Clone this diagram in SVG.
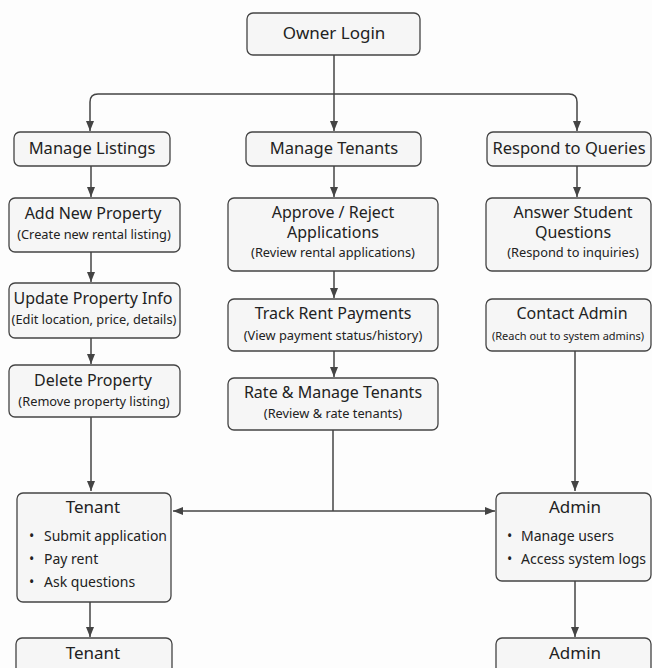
<svg xmlns="http://www.w3.org/2000/svg" width="652" height="668" viewBox="0 0 652 668">
<style>
.box{fill:#f6f6f6;stroke:#444;stroke-width:1.3}
.t{font-family:"Noto Sans","Open Sans",sans-serif;font-size:16px;fill:#222;text-anchor:middle}
.h{font-size:16.5px}
.n{font-size:17px}
.s{font-family:"Noto Sans","Open Sans",sans-serif;font-size:12.8px;fill:#222;text-anchor:middle}
.b{font-family:"Noto Sans","Open Sans",sans-serif;font-size:14px;fill:#222}
.c{fill:none;stroke:#444;stroke-width:1.5}
</style>
<defs>
<marker id="ah" markerUnits="userSpaceOnUse" markerWidth="10" markerHeight="10" viewBox="0 0 10 10" refX="10" refY="5" orient="auto-start-reverse">
<path d="M0,1 L10,5 L0,9 Z" fill="#444"/>
</marker>
</defs>
<rect width="652" height="668" fill="#fdfdfd"/>
<g id="connectors">
<path class="c" d="M334,55 V131" marker-end="url(#ah)"/>
<path class="c" d="M90,131 V102 Q90,94 98,94 H569 Q577,94 577,102 V131" marker-start="url(#ah)" marker-end="url(#ah)"/>
<path class="c" d="M91,166 V197" marker-end="url(#ah)"/>
<path class="c" d="M334,166 V197" marker-end="url(#ah)"/>
<path class="c" d="M577,166 V197" marker-end="url(#ah)"/>
<path class="c" d="M91,252 V282" marker-end="url(#ah)"/>
<path class="c" d="M91,338 V364" marker-end="url(#ah)"/>
<path class="c" d="M91,417 V491" marker-end="url(#ah)"/>
<path class="c" d="M334,271 V298" marker-end="url(#ah)"/>
<path class="c" d="M334,351 V377" marker-end="url(#ah)"/>
<path class="c" d="M333,430 V511"/>
<path class="c" d="M173,511 H495" marker-start="url(#ah)" marker-end="url(#ah)"/>
<path class="c" d="M575,351 V491" marker-end="url(#ah)"/>
<path class="c" d="M90,602 V637" marker-end="url(#ah)"/>
<path class="c" d="M575,581 V637" marker-end="url(#ah)"/>
</g>
<g id="owner-login">
<rect class="box" x="247" y="13" width="173" height="42" rx="6"/>
<text class="t n" x="334" y="39">Owner Login</text>
</g>
<g id="manage-listings">
<rect class="box" x="14" y="132" width="156" height="34" rx="6"/>
<text class="t h" x="92" y="154">Manage Listings</text>
</g>
<g id="manage-tenants">
<rect class="box" x="246" y="132" width="175" height="34" rx="6"/>
<text class="t h" x="334" y="154">Manage Tenants</text>
</g>
<g id="respond-queries">
<rect class="box" x="487" y="132" width="164" height="34" rx="6"/>
<text class="t h" x="569" y="154">Respond to Queries</text>
</g>
<g id="add-property">
<rect class="box" x="9" y="198" width="171" height="54" rx="6"/>
<text class="t" x="93" y="219">Add New Property</text>
<text class="s" x="94" y="239">(Create new rental listing)</text>
</g>
<g id="update-property">
<rect class="box" x="9" y="283" width="171" height="55" rx="6"/>
<text class="t" x="93" y="304">Update Property Info</text>
<text class="s" x="94" y="324">(Edit location, price, details)</text>
</g>
<g id="delete-property">
<rect class="box" x="9" y="365" width="171" height="52" rx="6"/>
<text class="t" x="93" y="386">Delete Property</text>
<text class="s" x="94" y="406">(Remove property listing)</text>
</g>
<g id="approve-reject">
<rect class="box" x="228" y="198" width="210" height="73" rx="6"/>
<text class="t" x="333" y="218">Approve / Reject</text>
<text class="t" x="333" y="238">Applications</text>
<text class="s" x="333" y="257">(Review rental applications)</text>
</g>
<g id="track-rent">
<rect class="box" x="228" y="299" width="210" height="52" rx="6"/>
<text class="t" x="333" y="319">Track Rent Payments</text>
<text class="s" x="333" y="340">(View payment status/history)</text>
</g>
<g id="rate-manage">
<rect class="box" x="228" y="378" width="210" height="52" rx="6"/>
<text class="t" x="333" y="398">Rate &amp; Manage Tenants</text>
<text class="s" x="333" y="418">(Review &amp; rate tenants)</text>
</g>
<g id="answer-questions">
<rect class="box" x="486" y="198" width="165" height="73" rx="6"/>
<text class="t" x="573" y="218">Answer Student</text>
<text class="t" x="573" y="238">Questions</text>
<text class="s" x="573" y="257">(Respond to inquiries)</text>
</g>
<g id="contact-admin">
<rect class="box" x="486" y="299" width="165" height="52" rx="6"/>
<text class="t" x="572" y="319">Contact Admin</text>
<text class="s" x="568" y="340" style="font-size:11px">(Reach out to system admins)</text>
</g>
<g id="tenant">
<rect class="box" x="17" y="493" width="154" height="109" rx="6"/>
<text class="t n" x="93" y="513">Tenant</text>
<text class="b" x="29" y="541">•</text>
<text class="b" x="44" y="541">Submit application</text>
<text class="b" x="29" y="564">•</text>
<text class="b" x="44" y="564">Pay rent</text>
<text class="b" x="29" y="587">•</text>
<text class="b" x="44" y="587">Ask questions</text>
</g>
<g id="admin">
<rect class="box" x="496" y="493" width="155" height="88" rx="6"/>
<text class="t n" x="575" y="513">Admin</text>
<text class="b" x="507" y="541">•</text>
<text class="b" x="521" y="541">Manage users</text>
<text class="b" x="507" y="564">•</text>
<text class="b" x="521" y="564">Access system logs</text>
</g>
<g id="tenant-2">
<rect class="box" x="16" y="638" width="156" height="50" rx="6"/>
<text class="t n" x="93" y="659">Tenant</text>
</g>
<g id="admin-2">
<rect class="box" x="496" y="638" width="155" height="50" rx="6"/>
<text class="t n" x="575" y="659">Admin</text>
</g>
</svg>
